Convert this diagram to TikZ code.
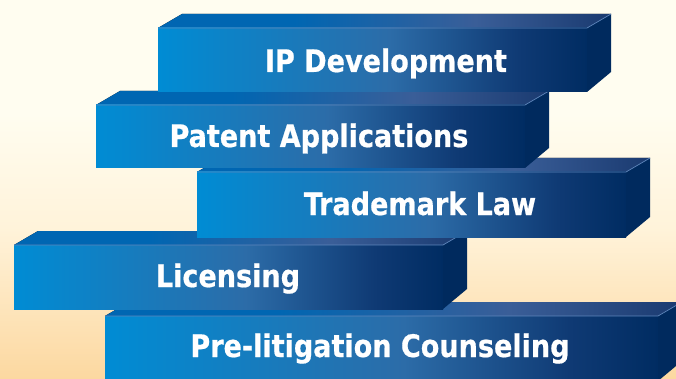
\documentclass[tikz,border=0pt]{standalone}
\usepackage{fontspec}
\newfontfamily\barfont{DejaVu Sans Condensed Bold}[FakeBold=0.6, FakeStretch=0.97]
\definecolor{fA}{HTML}{008CD4}
\definecolor{fB}{HTML}{2C6CA8}
\definecolor{fC}{HTML}{0F3A74}
\definecolor{fD}{HTML}{002C62}
\definecolor{tA}{HTML}{0066B2}
\definecolor{tB}{HTML}{3A5E98}
\definecolor{tC}{HTML}{1A3A70}
\definecolor{sidecol}{HTML}{002A5E}
\definecolor{edgecol}{HTML}{5E86BC}
\definecolor{bgTop}{HTML}{FFFDF0}
\definecolor{bgMid}{HTML}{FFF3DA}
\definecolor{bgBot}{HTML}{FCD8A0}
\pgfdeclarehorizontalshading{frontsh}{100bp}{color(0bp)=(fA); color(25bp)=(fA); color(52bp)=(fB); color(67bp)=(fC); color(75bp)=(fD); color(100bp)=(fD)}
\pgfdeclarehorizontalshading{topsh}{100bp}{color(0bp)=(tA); color(25bp)=(tA); color(40bp)=(tA); color(60bp)=(tB); color(75bp)=(tC); color(100bp)=(tC)}
\pgfdeclareverticalshading{bgsh}{100bp}{color(0bp)=(bgBot); color(25bp)=(bgBot); color(45bp)=(bgMid); color(60bp)=(bgTop); color(75bp)=(bgTop); color(100bp)=(bgTop)}
\newcommand\ipbar[4]{%
  \fill[shading=topsh] (#1,#2) -- (#1+24,#2-14) -- (#3+24,#2-14) -- (#3,#2) -- cycle;
  \fill[sidecol] (#3,#2) -- (#3+24,#2-14) -- (#3+24,#4-20) -- (#3,#4) -- cycle;
  \fill[shading=frontsh] (#1,#2) rectangle (#3,#4);
  \draw[edgecol, line width=0.7pt] (#1,#2) -- (#3,#2) -- (#3+24,#2-14);
}
\tikzset{lbl/.style={text=white, font=\barfont\fontsize{31}{37}\selectfont, anchor=base, inner sep=0pt}}
\begin{document}
\begin{tikzpicture}[x=1pt, y=-1pt]
\useasboundingbox (0,0) rectangle (676,379);
\fill[shading=bgsh] (0,0) rectangle (676,379);
\begin{scope}
\clip (0,0) rectangle (676,379);
\ipbar{105}{316}{658}{381}
\ipbar{14}{245}{443}{309}
\ipbar{197}{172}{626}{237}
\ipbar{96}{105}{525}{168}
\ipbar{158}{28}{587}{92}
\end{scope}
\node[lbl] (t1) at (386,72) {IP Development};
\node[lbl] (t2) at (319,147) {Patent Applications};
\node[lbl] (t3) at (420,215) {Trademark Law};
\node[lbl] (t4) at (228,287) {Licensing};
\node[lbl] (t5) at (380,357) {Pre-litigation Counseling};
\end{tikzpicture}
\end{document}
